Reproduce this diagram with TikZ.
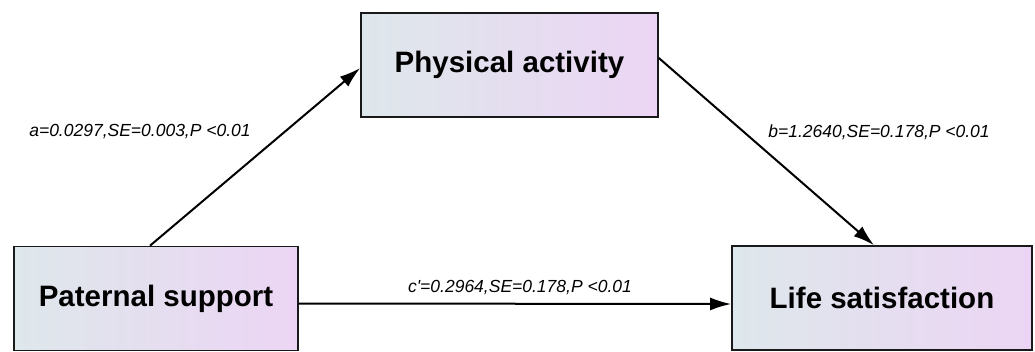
\documentclass[tikz,border=0pt]{standalone}
\usepackage{fontspec}
\setmainfont{Liberation Sans}
\newfontfamily\labfont[Ligatures=ResetAll]{Liberation Sans}
\usetikzlibrary{arrows.meta}
\definecolor{gl}{RGB}{222,231,235}
\definecolor{gr}{RGB}{236,213,244}
\tikzset{
  var/.style={draw=black!90, line width=1.6pt, left color=gl, right color=gr, shading angle=90,
    minimum height=104pt, inner sep=0pt, font=\fontsize{29.5}{34}\selectfont\bfseries},
  path/.style={line width=2pt, -{Latex[length=21pt,width=13pt]}},
  lab/.style={font=\labfont\fontsize{17.5}{20}\selectfont\itshape, inner sep=0pt}
}
\begin{document}
\begin{tikzpicture}[x=1pt,y=-1pt]
\useasboundingbox (0,0) rectangle (1035,352);
\node[var, minimum width=284pt] (ps) at (156,298.5) {Paternal support};
\node[var, minimum width=297pt] (pa) at (509.5,65) {Physical activity};
\node[var, minimum width=300pt] (ls) at (882,298) {Life satisfaction};
\draw[path] ([xshift=-6pt]ps.north) -- ([yshift=-3pt]pa.west);
\draw[path] ([yshift=7pt]pa.east) -- ([xshift=-8pt]ls.north);
\draw[path] ([yshift=-5pt]ps.east) -- ([yshift=-6pt]ls.west);
\node[lab] (la) at (140,132) {a=0.0297,SE=0.003,P <0.01};
\node[lab] (lb) at (879,132) {b=1.2640,SE=0.178,P <0.01};
\node[lab] (lc) at (520,288) {c'=0.2964,SE=0.178,P <0.01};
\end{tikzpicture}
\end{document}
